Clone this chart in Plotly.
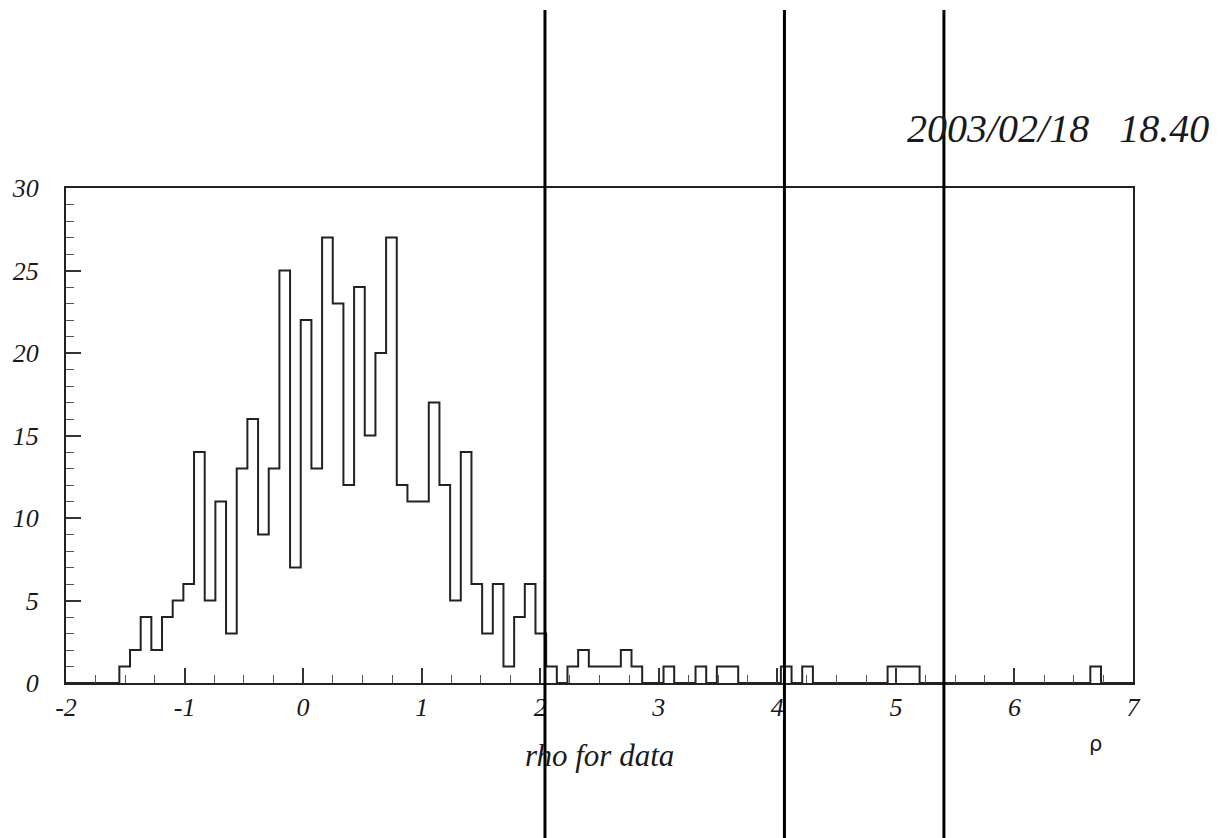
import numpy as np
import plotly.graph_objects as go

# Histogram setup: 100 bins from -2 to 7
x_min, x_max, n_bins = -2.0, 7.0, 100
counts = [0, 0, 0, 0, 0,
          1, 2, 4, 2, 4, 5, 6, 14, 5, 11,
          3, 13, 16, 9, 13, 25, 7, 22, 13, 27,
          23, 12, 24, 15, 20, 27, 12, 11, 11, 17,
          12, 5, 14, 6, 3, 6, 1, 4, 6, 3,
          1, 0, 1, 2, 1, 1, 1, 2, 1, 0,
          0, 1, 0, 0, 1, 0, 1, 1, 0, 0,
          0, 0, 1, 0, 1, 0, 0, 0, 0, 0,
          0, 0, 1, 1, 1, 0, 0, 0, 0, 0,
          0, 0, 0, 0, 0, 0, 0, 0, 0, 0,
          0, 1, 0, 0, 0]
marker_lines = [2.04, 4.06, 5.405]
x_tick_vals = [-2, -1, 0, 1, 2, 3, 4, 5, 6, 7]
y_tick_vals = [0, 5, 10, 15, 20, 25, 30]
x_label = "rho for data"
axis_symbol = "ρ"
stamp = "2003/02/18   18.40"

edges = np.linspace(x_min, x_max, n_bins + 1)
ys = list(counts) + [0]

W, H = 1221, 838
L, R, T, B = 62, 88, 188, 155
pw, ph = W - L - R, H - T - B

serif_it = "Liberation Serif"
ink = "#1a1a1a"

fig = go.Figure()
fig.add_trace(go.Scatter(
    x=edges, y=ys, mode="lines", line=dict(shape="hv", color="#222", width=2),
    hoverinfo="skip", showlegend=False, cliponaxis=False))

def px_to_px(px):  # pixel x -> paper x
    return (px - L) / pw

def py_to_py(py):  # pixel y -> paper y
    return (H - B - py) / ph

for v in marker_lines:
    xp = (v - x_min) / (x_max - x_min)
    fig.add_shape(type="line", xref="paper", yref="paper",
                  x0=xp, x1=xp, y0=py_to_py(838), y1=py_to_py(10),
                  line=dict(color="black", width=3), layer="above")

fig.add_annotation(text=f"<i>{x_label}</i>", xref="paper", yref="paper",
                   x=px_to_px(598), y=py_to_py(755), showarrow=False,
                   font=dict(family=serif_it, size=31, color=ink),
                   xanchor="center", yanchor="middle")
fig.add_annotation(text=axis_symbol, xref="paper", yref="paper",
                   x=px_to_px(1095), y=py_to_py(744), showarrow=False,
                   font=dict(family="DejaVu Sans", size=21, color=ink),
                   xanchor="center", yanchor="middle")
fig.add_annotation(text=f"<i>{stamp}</i>", xref="paper", yref="paper",
                   x=px_to_px(1211), y=py_to_py(129), showarrow=False,
                   font=dict(family=serif_it, size=40, color=ink),
                   xanchor="right", yanchor="middle")

fig.update_layout(
    width=W, height=H,
    margin=dict(l=L, r=R, t=T, b=B, pad=0),
    paper_bgcolor="white", plot_bgcolor="white",
    showlegend=False,
    xaxis=dict(range=[x_min, x_max], tickvals=x_tick_vals,
               ticktext=[f"<i>{v}</i>" for v in x_tick_vals],
               ticks="inside", ticklen=15, tickwidth=1.5, tickcolor="#333",
               minor=dict(ticks="inside", dtick=0.25, ticklen=8, tickwidth=1.2, tickcolor="#555"),
               showline=True, linecolor="#222", linewidth=2, mirror=True,
               showgrid=False, zeroline=False,
               tickfont=dict(family=serif_it, size=26, color=ink),
               ticklabelstandoff=0),
    yaxis=dict(range=[0, 30], tickvals=y_tick_vals,
               ticktext=[f"<i>{v}</i>" for v in y_tick_vals],
               ticks="inside", ticklen=15, tickwidth=1.5, tickcolor="#333",
               minor=dict(ticks="inside", dtick=1, ticklen=8, tickwidth=1.2, tickcolor="#555"),
               showline=True, linecolor="#222", linewidth=2, mirror=True,
               showgrid=False, zeroline=False,
               tickfont=dict(family=serif_it, size=26, color=ink),
               ticklabelstandoff=20),
)

fig.write_html("out.html")
